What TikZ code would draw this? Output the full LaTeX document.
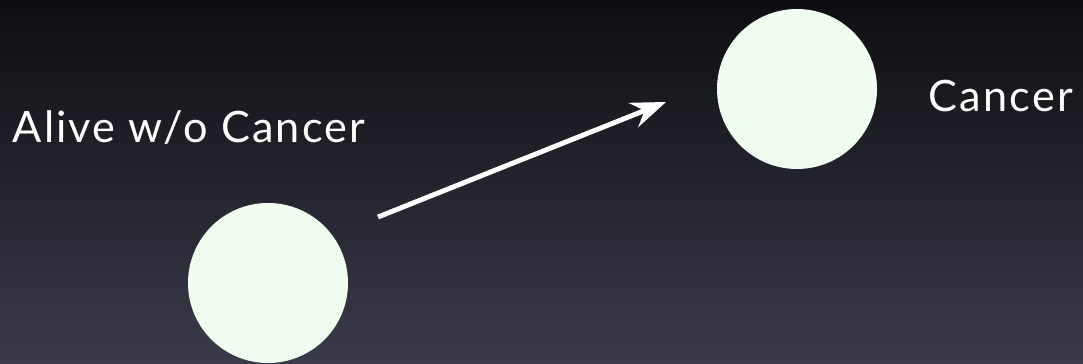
\documentclass[tikz,border=0pt]{standalone}
\usepackage{fontspec}
\setmainfont{Lato}[LetterSpace=5]
\usepackage{xcolor}
\usepackage{tikz}
\usetikzlibrary{arrows.meta}
\definecolor{slidetop}{RGB}{14,14,18}
\definecolor{slidebot}{RGB}{58,58,74}
\definecolor{statefill}{HTML}{F0FCF0}
\tikzset{
  state/.style={circle,fill=statefill,inner sep=0pt,minimum size=1.6cm},
  statelbl/.style={text=white,inner sep=0pt,anchor=base west,font=\fontsize{12.3}{14}\selectfont},
}

\begin{document}
\begin{tikzpicture}[x=1cm,y=1cm]
  \shade[top color=slidetop,bottom color=slidebot] (0,0) rectangle (10.83,3.64);
  \useasboundingbox (0,0) rectangle (10.83,3.64);
  \node[state] (alive) at (2.68,0.81) {};
  \node[state] (cancer) at (7.97,2.75) {};
  \node[statelbl] (alivelbl) at (0.12,2.21) {Alive w/o Cancer};
  \node[statelbl] (cancerlbl) at (9.28,2.52) {Cancer};
  \coordinate (trfrom) at (3.78,1.47);
  \coordinate (trto) at (6.66,2.62);
  \draw[white,line width=1.4pt,-{Stealth[length=3.5mm,width=2.6mm,inset=1.2mm]}] (trfrom) -- (trto);
\end{tikzpicture}
\end{document}
